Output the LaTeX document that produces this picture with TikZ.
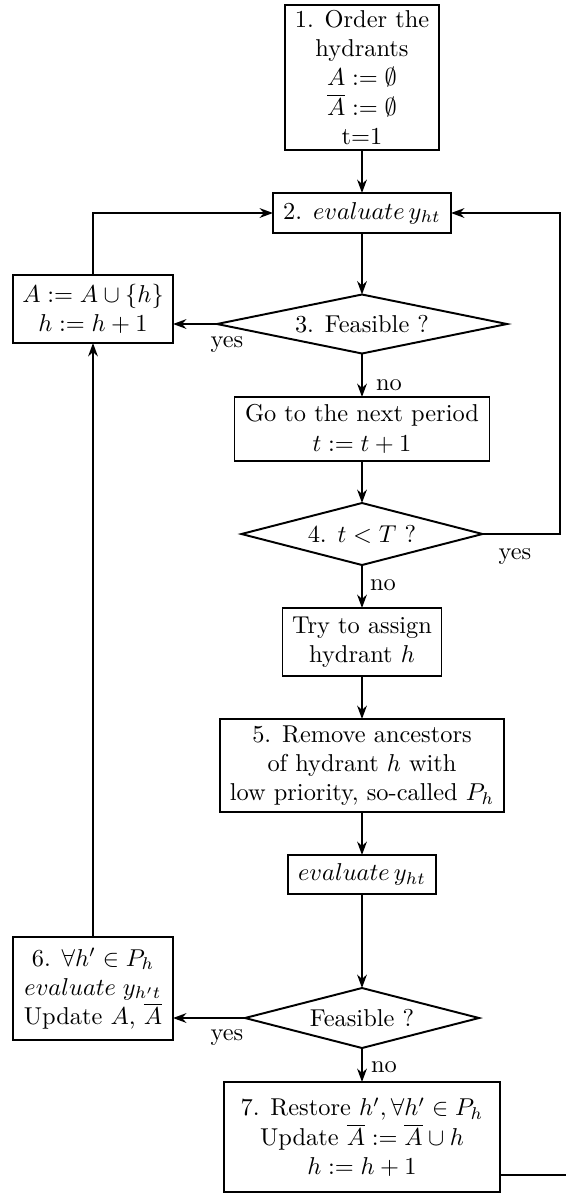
\documentclass[tikz,border=0pt]{standalone}
\usetikzlibrary{shapes.geometric,arrows.meta}
\begin{document}
\begin{tikzpicture}[x=0.41pt,y=-0.41pt,
  every node/.style={inner sep=0pt, outer sep=0pt},
  box/.style={draw, thick, rectangle, align=center},
  dia/.style={draw, thick, diamond, align=center},
  lab/.style={},
  arr/.style={thick, -{Stealth[length=5.5pt,width=4pt,inset=1.8pt]}},
  ln/.style={thick}]
\useasboundingbox (0,0) rectangle (566,1194);
% main column
\node[box, minimum width=154*0.41pt, minimum height=145*0.41pt] (box1) at (362,77.5)
  {1. Order the\\hydrants\\$A := \emptyset$\\$\overline{A} := \emptyset$\\t=1};
\node[box, minimum width=178*0.41pt, minimum height=40*0.41pt] (box2) at (362,213)
  {2. $evaluate\, y_{ht}$};
\node[dia, aspect=4.9, minimum width=290*0.41pt, minimum height=59*0.41pt] (d3) at (362,324)
  {3. Feasible ?};
\node[box, minimum width=255*0.41pt, minimum height=64*0.41pt] (next) at (362,429)
  {Go to the next period\\$t := t+1$};
\node[dia, aspect=3.9, minimum width=241*0.41pt, minimum height=62*0.41pt] (d4) at (362,534)
  {4. $t < T$ ?};
\node[box, minimum width=159*0.41pt, minimum height=68*0.41pt] (try) at (362,642)
  {Try to assign\\hydrant $h$};
\node[box, minimum width=284*0.41pt, minimum height=93*0.41pt] (box5) at (362,765.5)
  {5. Remove ancestors\\of hydrant $h$ with\\low priority, so-called $P_h$};
\node[box, minimum width=148*0.41pt, minimum height=39*0.41pt] (eval) at (362,874.5)
  {$evaluate\, y_{ht}$};
\node[dia, aspect=3.9, minimum width=234*0.41pt, minimum height=60*0.41pt] (dfeas) at (362,1018)
  {Feasible ?};
\node[box, minimum width=276*0.41pt, minimum height=110*0.41pt] (box7) at (362,1137)
  {7. Restore $h', \forall h' \in P_h$\\Update $\overline{A} := \overline{A} \cup h$\\$h := h+1$};
% left column
\node[box, minimum width=160*0.41pt, minimum height=68*0.41pt] (boxA) at (93,309)
  {$A := A \cup \{h\}$\\$h := h+1$};
\node[box, minimum width=160*0.41pt, minimum height=103*0.41pt] (box6) at (93,988.5)
  {6. $\forall h' \in P_h$\\$evaluate\; y_{h't}$\\Update $A$, $\overline{A}$};
% labels
\node[lab] (y3) at (227,345) {yes};
\node[lab] (n3) at (389,385) {no};
\node[lab] (y4) at (515,557) {yes};
\node[lab] (n4) at (383,585) {no};
\node[lab] (y6) at (227,1038) {yes};
\node[lab] (n6) at (384,1067) {no};
% helper coordinates
\coordinate (cR) at (560,534);
\coordinate (cB) at (566,1175);
% connectors
\draw[arr] (box1) -- (box2);
\draw[arr] (box2) -- (d3);
\draw[arr] (d3) -- (next);
\draw[arr] (next) -- (d4);
\draw[arr] (d4) -- (try);
\draw[arr] (try) -- (box5);
\draw[arr] (box5) -- (eval);
\draw[arr] (eval) -- (dfeas);
\draw[arr] (dfeas) -- (box7);
\draw[arr] (d3.west) -- (d3.west -| boxA.east);
\draw[arr] (boxA.north) |- (box2.west);
\draw[arr] (d4.east) -- (cR) |- (box2.east);
\draw[arr] (box6.north) -- (boxA.south);
\draw[arr] (dfeas.west) -- (dfeas.west -| box6.east);
\draw[ln] (box7.east |- cB) -- (cB);
\end{tikzpicture}
\end{document}
